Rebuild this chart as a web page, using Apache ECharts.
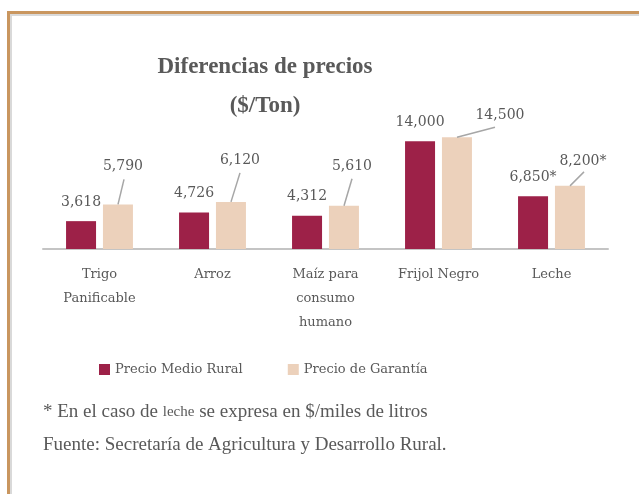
<!DOCTYPE html>
<html>
<head>
<meta charset="utf-8">
<script src="https://cdn.jsdelivr.net/npm/echarts@6/dist/echarts.min.js"></script>
<style>
  html, body { margin: 0; padding: 0; background: #fff; }
  #chart { width: 639px; height: 494px; }
</style>
</head>
<body>
<div id="chart"></div>
<script>
const productos = ['Trigo\nPanificable', 'Arroz', 'Maíz para\nconsumo\nhumano', 'Frijol Negro', 'Leche']
const precioRural = [3618, 4726, 4312, 14000, 6850]
const precioGarantia = [5790, 6120, 5610, 14500, 8200]
const nota = ['', '', '', '', '*']
const series = ['Precio Medio Rural', 'Precio de Garantía']

const gris = '#595959'
const fuente = 'DejaVu Serif'

// desplazamiento de etiquetas beige y extremo de su linea guia (px)
const despl = [[5, -26], [9, -30], [8, -27], [43, -10], [13, -13]]
const guia = [[6, -25], [9, -29], [8, -27], [38, -10], [14, -14]]

const fmt = p => p.value.toLocaleString('en-US') + nota[p.dataIndex]

const chart = echarts.init(document.getElementById('chart'))

chart.setOption({
  animation: false,
  title: {
    text: 'Diferencias de precios\n($/Ton)',
    left: 260,
    top: 43,
    textAlign: 'center',
    textStyle: {
      fontFamily: 'Liberation Serif',
      fontWeight: 'bold',
      fontSize: 23,
      lineHeight: 39,
      color: gris
    }
  },
  legend: {
    data: series,
    left: 94,
    top: 358,
    itemWidth: 11,
    itemHeight: 11,
    itemGap: 45,
    icon: 'rect',
    textStyle: { fontFamily: fuente, fontSize: 13, color: gris }
  },
  grid: { left: 43, right: 31, top: 95, bottom: 245 },
  xAxis: {
    type: 'category',
    data: productos,
    axisLine: { lineStyle: { color: '#c4c4c4', width: 2 } },
    axisTick: { show: false },
    axisLabel: {
      fontFamily: fuente,
      fontSize: 13,
      color: gris,
      lineHeight: 24,
      margin: 14
    }
  },
  yAxis: { type: 'value', min: 0, max: 20000, show: false },
  series: [
    {
      name: series[0],
      type: 'bar',
      data: precioRural,
      barWidth: 30,
      barGap: '23%',
      itemStyle: { color: '#9d2148' },
      label: {
        show: true,
        position: 'top',
        distance: 12,
        formatter: fmt,
        fontFamily: fuente,
        fontSize: 14,
        color: gris
      }
    },
    {
      name: series[1],
      type: 'bar',
      data: precioGarantia,
      barWidth: 30,
      itemStyle: { color: '#ecd1bb' },
      label: {
        show: true,
        position: 'top',
        distance: 5,
        formatter: fmt,
        fontFamily: fuente,
        fontSize: 14,
        color: gris
      },
      labelLayout: p => ({ dx: despl[p.dataIndex][0], dy: despl[p.dataIndex][1] })
    },
    {
      type: 'custom',
      silent: true,
      z: 5,
      data: precioGarantia.map((v, i) => [i, v]),
      renderItem: (params, api) => {
        const i = api.value(0)
        const p = api.coord([i, api.value(1)])
        const x = p[0] + 18.5
        return {
          type: 'line',
          shape: { x1: x, y1: p[1], x2: x + guia[i][0], y2: p[1] + guia[i][1] },
          style: { stroke: '#a6a6a6', lineWidth: 1.5 }
        }
      }
    }
  ],
  graphic: [
    { type: 'rect', shape: { x: 10, y: 14, width: 629, height: 2 }, style: { fill: '#d9d9d9' } },
    { type: 'rect', shape: { x: 10, y: 14, width: 2, height: 480 }, style: { fill: '#d9d9d9' } },
    { type: 'rect', shape: { x: 7, y: 11, width: 632, height: 3 }, style: { fill: '#c9965f' } },
    { type: 'rect', shape: { x: 7, y: 11, width: 3, height: 483 }, style: { fill: '#c9965f' } },
    {
      type: 'text',
      left: 43,
      top: 403,
      style: {
        text: '* En el caso de {s|leche} se expresa en $/miles de litros',
        font: '19px "Liberation Serif"',
        fill: gris,
        rich: { s: { fontFamily: 'Liberation Serif', fontSize: 15, fill: gris } }
      }
    },
    {
      type: 'text',
      left: 43,
      top: 436,
      style: {
        text: 'Fuente: Secretaría de Agricultura y Desarrollo Rural.',
        font: '19px "Liberation Serif"',
        fill: gris
      }
    }
  ]
})
</script>
</body>
</html>
